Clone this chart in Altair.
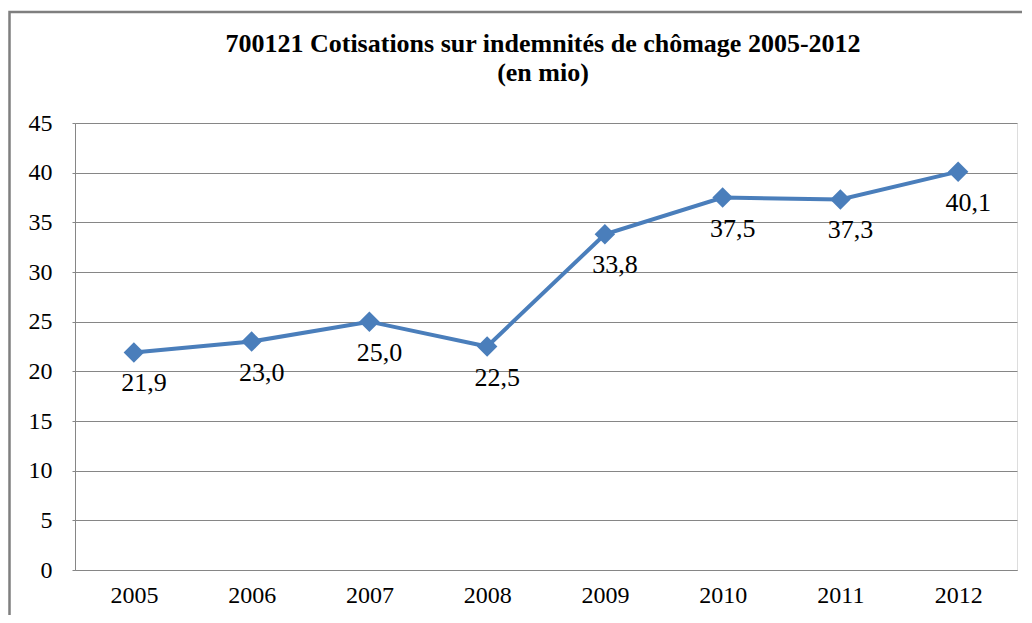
import altair as alt
import pandas as pd

years = ["2005", "2006", "2007", "2008", "2009", "2010", "2011", "2012"]
values = [21.9, 23.0, 25.0, 22.5, 33.8, 37.5, 37.3, 40.1]
labels = ["21,9", "23,0", "25,0", "22,5", "33,8", "37,5", "37,3", "40,1"]
y_ticks = [0, 5, 10, 15, 20, 25, 30, 35, 40, 45]
title_line1 = "700121 Cotisations sur  indemnités  de chômage 2005-2012"
title_line2 = "(en mio)"

FONT = "Liberation Serif"
TFONT = "'Liberation Serif', 'Times New Roman', 'DejaVu Serif', serif"
BLUE = "#4A7EBB"
GRID = "#868686"

df = pd.DataFrame({"year": years, "value": values, "label": labels})

base = alt.Chart(df).encode(
    x=alt.X(
        "year:O",
        sort=years,
        scale=alt.Scale(type="point", padding=0.5),
        axis=alt.Axis(
            title=None, labelAngle=0, labelFont=FONT, labelFontSize=24,
            labelColor="black", labelPadding=13, ticks=False,
            domainColor=GRID, grid=False,
        ),
    ),
    y=alt.Y(
        "value:Q",
        scale=alt.Scale(domain=[0, 45], nice=False),
        axis=alt.Axis(
            title=None, values=y_ticks, labelFont=FONT, labelFontSize=24,
            labelColor="black", labelPadding=20, tickSize=3, tickColor=GRID,
            domainColor=GRID, gridColor=GRID, gridOpacity=1,
        ),
    ),
)

line = base.mark_line(color=BLUE, strokeWidth=4)
points = base.mark_point(shape="diamond", filled=True, size=420, color=BLUE, opacity=1)
text = base.mark_text(
    dx=10, dy=39, baseline="alphabetic", align="center",
    font=FONT, fontSize=26, color="black",
).encode(text="label:N")

one = pd.DataFrame({"a": [0]})

frame = alt.Chart(one).mark_rect(
    fill="transparent", stroke="#7f7f7f", strokeWidth=2.5, clip=False
).encode(
    x=alt.value(-65.5), x2=alt.value(1100),
    y=alt.value(-111), y2=alt.value(600),
)

title1 = alt.Chart(one).mark_text(
    font=TFONT, fontSize=26, fontWeight="bold", color="black",
    align="center", baseline="alphabetic",
).encode(x=alt.value(468), y=alt.value(-71), text=alt.value(title_line1))

title2 = alt.Chart(one).mark_text(
    font=TFONT, fontSize=26, fontWeight="bold", color="black",
    align="center", baseline="alphabetic",
).encode(x=alt.value(468), y=alt.value(-42), text=alt.value(title_line2))

chart = alt.layer(frame, line, points, text, title1, title2).properties(
    width=942,
    height=447,
    autosize=alt.AutoSizeParams(type="none"),
    padding={"left": 67, "top": 115, "right": 5, "bottom": 45},
).configure_view(stroke="#d9d9d9", strokeWidth=1).configure(background="white")

chart.save("out.html", embed_options={"renderer": "svg", "actions": False})
